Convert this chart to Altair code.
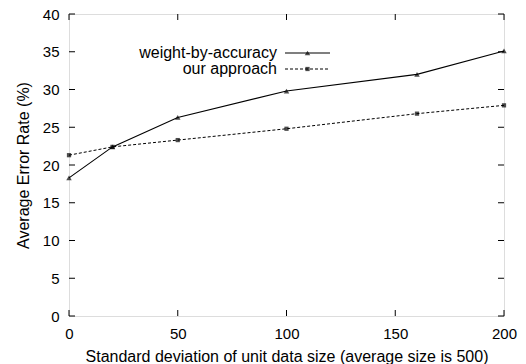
import altair as alt
import pandas as pd

x_vals = [0, 20, 50, 100, 160, 200]
wba = [18.3, 22.4, 26.3, 29.8, 32.0, 35.1]
ours = [21.3, 22.4, 23.3, 24.8, 26.8, 27.9]
series_names = ["weight-by-accuracy", "our approach"]
x_ticks = [0, 50, 100, 150, 200]
y_ticks = [0, 5, 10, 15, 20, 25, 30, 35, 40]
x_title = "Standard deviation of unit data size (average size is 500)"
y_title = "Average Error Rate (%)"

W, H = 435, 302
FONT = "Liberation Sans"
FS = 16
LFS = 15

df = pd.DataFrame({
    "x": x_vals * 2,
    "y": wba + ours,
    "s": [series_names[0]] * len(x_vals) + [series_names[1]] * len(x_vals),
})

xs = alt.Scale(domain=[0, 200], nice=False)
ys = alt.Scale(domain=[0, 40], nice=False)

xax = alt.Axis(values=x_ticks, ticks=False, domain=False, grid=False, labelFontSize=LFS,
               labelPadding=10, titleFontSize=FS, titleFontWeight="normal", titlePadding=7,
               labelOverlap=False, labelFlush=False,
               labelColor="black", titleColor="black", labelFont=FONT, titleFont=FONT)
yax = alt.Axis(values=y_ticks, ticks=False, domain=False, grid=False, labelFontSize=LFS,
               labelPadding=10, titleFontSize=FS, titleFontWeight="normal", titlePadding=11,
               labelOverlap=False, labelFlush=False,
               labelColor="black", titleColor="black", labelFont=FONT, titleFont=FONT)


def X(f):
    return alt.X(f, scale=xs, axis=xax, title=x_title)


def Y(f):
    return alt.Y(f, scale=ys, axis=yax, title=y_title)


base = alt.Chart(df)

line1 = base.transform_filter(alt.datum.s == series_names[0]).mark_line(
    color="black", strokeWidth=1.1).encode(x=X("x:Q"), y=Y("y:Q"))
pts1 = base.transform_filter(alt.datum.s == series_names[0]).mark_point(
    shape="triangle-up", filled=True, color="black", size=30).encode(x=X("x:Q"), y=Y("y:Q"))
line2 = base.transform_filter(alt.datum.s == series_names[1]).mark_line(
    color="black", strokeWidth=1, strokeDash=[3, 2]).encode(x=X("x:Q"), y=Y("y:Q"))
pts2 = base.transform_filter(alt.datum.s == series_names[1]).mark_point(
    shape="square", filled=True, color="black", size=18).encode(x=X("x:Q"), y=Y("y:Q"))

# inward ticks on all four sides
xt = pd.DataFrame({"t": x_ticks})
yt = pd.DataFrame({"t": y_ticks})
tb = alt.Chart(xt).mark_rule(color="black", strokeWidth=1).encode(
    x=X("t:Q"), y=alt.value(H), y2=alt.value(H - 6))
tt = alt.Chart(xt).mark_rule(color="black", strokeWidth=1).encode(
    x=X("t:Q"), y=alt.value(0), y2=alt.value(6))
tl = alt.Chart(yt).mark_rule(color="black", strokeWidth=1).encode(
    y=Y("t:Q"), x=alt.value(0), x2=alt.value(6))
tr = alt.Chart(yt).mark_rule(color="black", strokeWidth=1).encode(
    y=Y("t:Q"), x=alt.value(W), x2=alt.value(W - 6))

# legend (gnuplot style: label left of sample)
leg = pd.DataFrame({"s": series_names})
ly = [39, 55]
lt1 = alt.Chart(leg).transform_filter(alt.datum.s == series_names[0]).mark_text(
    align="right", baseline="middle", fontSize=FS, font=FONT, color="black").encode(
    text="s:N", x=alt.value(208), y=alt.value(ly[0]))
lt2 = alt.Chart(leg).transform_filter(alt.datum.s == series_names[1]).mark_text(
    align="right", baseline="middle", fontSize=FS, font=FONT, color="black").encode(
    text="s:N", x=alt.value(208), y=alt.value(ly[1]))
lr1 = alt.Chart(leg).transform_filter(alt.datum.s == series_names[0]).mark_rule(
    color="black", strokeWidth=1.1).encode(x=alt.value(216), x2=alt.value(261), y=alt.value(ly[0]))
lr2 = alt.Chart(leg).transform_filter(alt.datum.s == series_names[1]).mark_rule(
    color="black", strokeWidth=1, strokeDash=[3, 2]).encode(x=alt.value(216), x2=alt.value(261), y=alt.value(ly[1]))
lp1 = alt.Chart(leg).transform_filter(alt.datum.s == series_names[0]).mark_point(
    shape="triangle-up", filled=True, color="black", size=30).encode(x=alt.value(238.5), y=alt.value(ly[0]))
lp2 = alt.Chart(leg).transform_filter(alt.datum.s == series_names[1]).mark_point(
    shape="square", filled=True, color="black", size=18).encode(x=alt.value(238.5), y=alt.value(ly[1]))

chart = alt.layer(line1, line2, pts1, pts2, tb, tt, tl, tr, lt1, lt2, lr1, lr2, lp1, lp2).properties(
    width=W, height=H,
    padding={"left": 61, "top": 6, "right": 14, "bottom": 48},
    autosize=alt.AutoSizeParams(type="none"),
).configure_view(stroke="black", strokeWidth=1.2).configure_axis(
    labelOverlap=False, labelFlush=False
).configure(background="white")

chart.save("out.html", embed_options={"renderer": "svg", "actions": False})
